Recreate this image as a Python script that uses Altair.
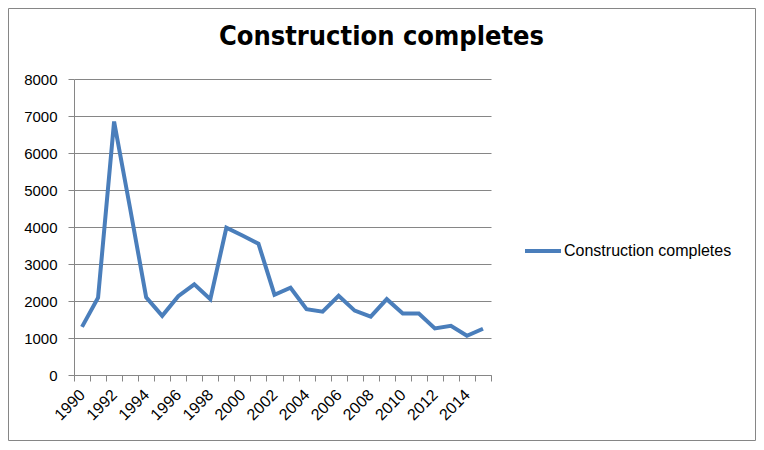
import altair as alt
import pandas as pd

years = list(range(1990, 2016))
completes = [1300, 2090, 6850, 4500, 2100, 1600, 2130, 2450, 2050, 3980,
             3770, 3550, 2170, 2360, 1780, 1710, 2140, 1740, 1580, 2050,
             1660, 1660, 1260, 1330, 1060, 1250]
series_name = "Construction completes"

df = pd.DataFrame({"year": years, "value": completes, "series": series_name})

GRAY = "#868686"
BLUE = "#4A7EBB"
TICK_FONT = "Liberation Sans"

line = alt.Chart(df).mark_line(strokeWidth=4).encode(
    x=alt.X("year:O",
            scale=alt.Scale(type="band", paddingInner=0, paddingOuter=0),
            axis=alt.Axis(title=None, tickBand="extent", labelAngle=-45,
                          labelAlign="right", labelBaseline="middle",
                          labelExpr="datum.value % 2 == 0 ? datum.label : ''",
                          labelPadding=11, tickSize=6, labelFontSize=16)),
    y=alt.Y("value:Q",
            scale=alt.Scale(domain=[0, 8000], nice=False),
            axis=alt.Axis(title=None, values=list(range(0, 8001, 1000)),
                          format="d", tickSize=6, labelPadding=11)),
    color=alt.Color("series:N", scale=alt.Scale(range=[BLUE]),
                    legend=alt.Legend(title=None, orient="none",
                                      legendX=449, legendY=152,
                                      symbolType="stroke", symbolSize=1296,
                                      symbolStrokeWidth=4, padding=0,
                                      labelFontSize=16, labelFont=TICK_FONT,
                                      labelColor="#000000", labelOffset=1,
                                      labelLimit=400)),
    order="year:O",
)

frame = alt.Chart(pd.DataFrame({"a": [0]})).mark_rect(
    fill=None, stroke=GRAY, strokeWidth=1
).encode(x=alt.value(-65.5), x2=alt.value(681.5),
         y=alt.value(-70.5), y2=alt.value(361.5))

chart = alt.layer(frame, line).properties(
    width=417,
    height=296,
    autosize=alt.AutoSizeParams(type="none"),
    padding={"left": 66, "top": 71, "right": 265, "bottom": 67},
    title=alt.TitleParams(series_name, font="Liberation Sans Narrow, DejaVu Sans Condensed, sans-serif",
                          fontSize=27, fontWeight="bold", color="#000000",
                          anchor="middle", dx=99, dy=57, offset=14),
).configure_view(stroke=None).configure_axis(
    domainColor=GRAY, tickColor=GRAY, gridColor=GRAY, gridOpacity=1,
    labelFont=TICK_FONT, labelFontSize=15, labelColor="#000000",
).configure_axisX(grid=False).configure_axisY(grid=True, domain=True)

chart.save("out.html", embed_options={"renderer": "svg", "actions": False})
